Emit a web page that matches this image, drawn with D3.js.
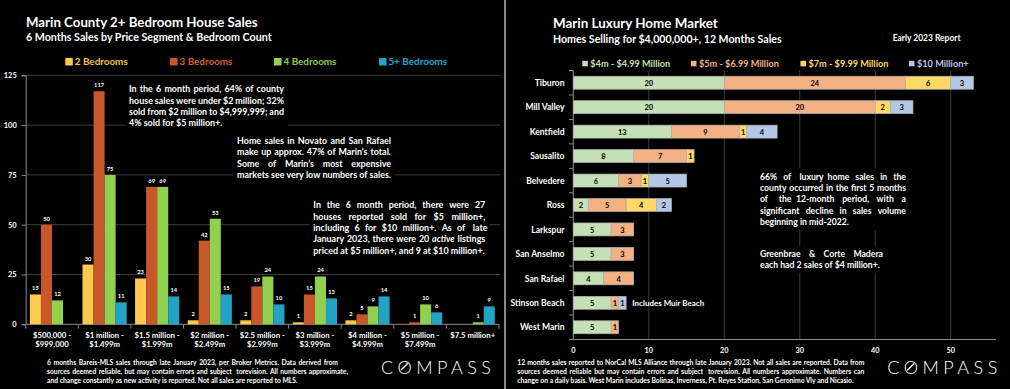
<!DOCTYPE html>
<html>
<head>
<meta charset="utf-8">
<script src="https://cdn.jsdelivr.net/npm/d3@7"></script>
<style>
  html, body { margin: 0; padding: 0; background: #000; }
  svg { display: block; font-family: Lato, "Open Sans", sans-serif; }
</style>
</head>
<body>
<svg id="chart" width="1010" height="389"></svg>
<script>
// ---- left chart: bedroom counts by price segment ----
const priceLine1 = ['$500,000 -', '$1 million -', '$1.5 million -', '$2 million -', '$2.5 million -',
                    '$3 million -', '$4 million -', '$5 million -', '$7.5 million+'];
const priceLine2 = ['$999,000', '$1.499m', '$1.999m', '$2.499m', '$2.999m', '$3.999m', '$4.999m', '$7.499m', ''];
const bedKeys = ['2 Bedrooms', '3 Bedrooms', '4 Bedrooms', '5+ Bedrooms'];
const beds2 = [15, 30, 23, 2, 2, 1, 2, null, null];
const beds3 = [50, 117, 69, 42, 19, 15, 5, 1, null];
const beds4 = [12, 75, 69, 53, 24, 24, 9, 10, 1];
const beds5 = [null, 11, 14, 15, 10, 13, 14, 6, 9];
const yTicksLeft = [0, 25, 50, 75, 100, 125];

// ---- right chart: luxury sales by town ----
const towns = ['Tiburon', 'Mill Valley', 'Kentfield', 'Sausalito', 'Belvedere', 'Ross', 'Larkspur',
               'San Anselmo', 'San Rafael', 'Stinson Beach', 'West Marin'];
const segKeys = ['$4m - $4.99 Million', '$5m - $6.99 Million', '$7m - $9.99 Million', '$10 Million+'];
const seg4m  = [20, 20, 13, 8, 6, 2, 5, 5, 4, 5, 5];
const seg5m  = [24, 20, 9, 7, 3, 5, 3, 3, 4, 1, 1];
const seg7m  = [6, 2, 1, 1, 1, 4, 0, 0, 0, 0, 0];
const seg10m = [3, 3, 4, 0, 5, 2, 0, 0, 0, 1, 0];
const xTicksRight = [0, 10, 20, 30, 40, 50];

const BED_COLORS = ['#FFC84F', '#C8582A', '#92D050', '#23A3C3'];
const BED_TEXT = ['#F7C244', '#D65F27', '#8CCB4E', '#1FA6D6'];
const SEG_COLORS = ['#C5E0B4', '#F4B183', '#FFD966', '#B4C7E7'];
const GRID = '#3c3c3c', AXIS = '#8c8c8c';

const svg = d3.select('#chart');
svg.append('rect').attr('width', 1010).attr('height', 389).attr('fill', '#000');

// helpers
const probe = svg.append('text').attr('x', -500).attr('y', -500);
function measure(str, size, weight) {
  probe.attr('font-size', size).attr('font-weight', weight || 'bold').text(str);
  return probe.node().getComputedTextLength();
}
function fitSize(str, w, weight) { return 10 * w / measure(str, 10, weight); }

function wordsLine(g, line, x, y, size, width, color) {
  const words = line.split(' ').filter(d => d);
  const t = g.append('text').attr('y', y).attr('font-size', size).attr('font-weight', 'bold').attr('fill', color || '#fff');
  const spans = words.map(wd => {
    const it = wd.startsWith('*');
    return t.append('tspan').attr('font-style', it ? 'italic' : null).text(it ? wd.replace(/\*/g, '') : wd);
  });
  const lens = spans.map(s => s.node().getComputedTextLength());
  const space = measure('a a', size) - measure('aa', size);
  const gap = width && words.length > 1 ? (width - d3.sum(lens)) / (words.length - 1) : space;
  let cx = x;
  spans.forEach((s, i) => { s.attr('x', cx); cx += lens[i] + gap; });
}

function note(g, lines, x, y, lh, size, w, justifyLast) {
  g.append('rect').attr('x', x - 4).attr('y', y - lh).attr('width', w + 8)
    .attr('height', lh * lines.length + 5).attr('fill', '#000');
  lines.forEach((ln, i) => {
    const last = i === lines.length - 1;
    wordsLine(g, ln, x, y + i * lh, size, (last && !justifyLast) ? null : w);
  });
}

function compass(g, x, y) {
  const t = g.append('text').attr('x', x).attr('y', y).attr('font-size', 18).attr('font-weight', 300)
    .attr('fill', '#fff').attr('textLength', 110).attr('lengthAdjust', 'spacing').text('COMPASS');
  const e = t.node().getExtentOfChar(1);
  const cx = e.x + e.width / 2 - 1, cy = y - 6.5;
  g.append('line').attr('x1', cx - 2.5).attr('y1', cy + 2.5).attr('x2', cx + 4.3).attr('y2', cy - 4.3)
    .attr('stroke', '#fff').attr('stroke-width', 1.4);
}

// ================= LEFT PANEL =================
const L = svg.append('g');
const xL = d3.scaleBand().domain(d3.range(priceLine1.length)).range([25.7, 499]).paddingInner(0.16).paddingOuter(0.08);
const xL1 = d3.scaleBand().domain(bedKeys).range([0, xL.bandwidth()]);
const yL = d3.scaleLinear().domain([0, 125]).range([324.3, 75.3]);
const bedSeries = [beds2, beds3, beds4, beds5];

L.append('text').attr('x', 26).attr('y', 27).attr('fill', '#fff').attr('font-weight', 'bold')
  .attr('font-size', fitSize('Marin County 2+ Bedroom House Sales', 232)).text('Marin County 2+ Bedroom House Sales');
L.append('text').attr('x', 26).attr('y', 41).attr('fill', '#fff').attr('font-weight', 'bold')
  .attr('font-size', fitSize('6 Months Sales by Price Segment & Bedroom Count', 246))
  .text('6 Months Sales by Price Segment & Bedroom Count');

// legend
const legFs = fitSize('2 Bedrooms', 53);
[65.3, 170, 274, 379].forEach((lx, i) => {
  L.append('rect').attr('x', lx).attr('y', 58).attr('width', 7.5).attr('height', 7.5).attr('fill', BED_COLORS[i]);
  L.append('text').attr('x', lx + 9.5).attr('y', 65.3).attr('font-size', legFs).attr('font-weight', 'bold')
    .attr('fill', BED_TEXT[i]).text(bedKeys[i]);
});

// grid
L.selectAll('line.grid').data(yTicksLeft.filter(v => v > 0)).join('line').attr('class', 'grid')
  .attr('x1', 25.7).attr('x2', 500).attr('y1', d => yL(d)).attr('y2', d => yL(d))
  .attr('stroke', GRID).attr('stroke-width', 1);

// y axis
const yAx = L.append('g').attr('transform', 'translate(25.7,0)')
  .call(d3.axisLeft(yL).tickValues(yTicksLeft).tickSize(4).tickPadding(5));
yAx.select('.domain').attr('stroke', AXIS);
yAx.selectAll('.tick line').attr('stroke', AXIS);
yAx.selectAll('.tick text').attr('fill', '#fff').attr('font-weight', 'bold')
  .attr('font-size', fitSize('125', 13)).attr('font-family', 'Lato, sans-serif');

// x axis
L.append('line').attr('x1', 25.7).attr('x2', 499).attr('y1', 324.3).attr('y2', 324.3).attr('stroke', AXIS);
const stepL = xL.step();
L.selectAll('line.xt').data(d3.range(priceLine1.length + 1)).join('line').attr('class', 'xt')
  .attr('x1', d => 25.7 + d * stepL).attr('x2', d => 25.7 + d * stepL)
  .attr('y1', 324.3).attr('y2', 328.5).attr('stroke', AXIS);
const catFs = fitSize('$7.5 million+', 45);
priceLine1.forEach((p, i) => {
  const cx = xL(i) + xL.bandwidth() / 2;
  const t = L.append('text').attr('text-anchor', 'middle').attr('fill', '#fff').attr('font-weight', 'bold')
    .attr('font-size', catFs);
  t.append('tspan').attr('x', cx).attr('y', 337.8).text(p);
  t.append('tspan').attr('x', cx).attr('y', 347.3).text(priceLine2[i]);
});

// annotations (boxes hide the gridlines behind them)
const annFs = fitSize('markets see very low numbers of sales.', 154);
note(L, ['In the 6 month period, 64% of county', 'house sales were under $2 million; 32%',
         'sold from $2 million to $4,999,999; and', '4% sold for $5 million+.'], 129, 92.3, 11.3, annFs, 155);
note(L, ['Home sales in Novato and San Rafael', 'make up approx. 47% of Marin\u2019s total.',
         'Some of Marin\u2019s most expensive', 'markets see very low numbers of sales.'], 237, 143.8, 11.4, annFs, 154, true);
note(L, ['In the 6 month period, there were 27', 'houses reported sold for $5 million+,',
         'including 6 for $10 million+. As of late', 'January 2023, there were 20 *active* listings',
         'priced at $5 million+, and 9 at $10 million+.'], 313.3, 208.3, 11.3, annFs, 172);

// bars
const valFs = fitSize('117', 10);
bedSeries.forEach((vals, k) => {
  vals.forEach((v, i) => {
    if (v == null || v <= 0) return;
    const bx = xL(i) + xL1(bedKeys[k]);
    L.append('rect').attr('x', bx).attr('y', yL(v)).attr('width', xL1.bandwidth()).attr('height', yL(0) - yL(v))
      .attr('fill', BED_COLORS[k]);
    L.append('text').attr('x', bx + xL1.bandwidth() / 2).attr('y', yL(v) - 4).attr('text-anchor', 'middle')
      .attr('fill', '#fff').attr('font-weight', 'bold').attr('font-size', valFs).text(v);
  });
});

// footnote
const footFs = fitSize('and change constantly as new activity is reported. Not all sales are reported to MLS.', 251);
wordsLine(L, '6  months Bareis-MLS sales through late January 2023, per Broker Metrics. Data derived from', 47, 364.8, footFs, 291);
wordsLine(L, 'sources deemed reliable, but may contain errors and subject to revision. All numbers approximate,', 47, 374, footFs, 301);
wordsLine(L, 'and change constantly as new activity is reported. Not all sales are reported to MLS.', 47, 383.2, footFs, null);
compass(L, 381, 374);

// separator
svg.append('line').attr('x1', 505).attr('x2', 505).attr('y1', 0).attr('y2', 389)
  .attr('stroke', '#8a8a8a').attr('stroke-width', 2);

// ================= RIGHT PANEL =================
const R = svg.append('g');
const xR = d3.scaleLinear().domain([0, 56]).range([573.3, 996]);
const yR = d3.scaleBand().domain(towns).range([70.5, 339.5]).paddingInner(0.47).paddingOuter(0.235);

R.append('text').attr('x', 553).attr('y', 28).attr('fill', '#fff').attr('font-weight', 'bold')
  .attr('font-size', fitSize('Marin Luxury Home Market', 165)).text('Marin Luxury Home Market');
R.append('text').attr('x', 553).attr('y', 43).attr('fill', '#fff').attr('font-weight', 'bold')
  .attr('font-size', fitSize('Homes Selling for $4,000,000+, 12 Months Sales', 229))
  .text('Homes Selling for $4,000,000+, 12 Months Sales');
R.append('text').attr('x', 892.7).attr('y', 40.5).attr('fill', '#fff').attr('font-weight', 'bold')
  .attr('font-size', fitSize('Early 2023 Report', 68)).text('Early 2023 Report');

const legFsR = fitSize('$4m - $4.99 Million', 80);
[582.3, 691, 800.5, 909].forEach((lx, i) => {
  R.append('rect').attr('x', lx).attr('y', 60.8).attr('width', 5.5).attr('height', 5.5).attr('fill', SEG_COLORS[i]);
  R.append('text').attr('x', lx + 8).attr('y', 66.5).attr('font-size', legFsR).attr('font-weight', 'bold')
    .attr('fill', SEG_COLORS[i]).text(segKeys[i]);
});

// grid
R.selectAll('line.grid').data(xTicksRight.filter(v => v > 0)).join('line').attr('class', 'grid')
  .attr('x1', d => xR(d)).attr('x2', d => xR(d)).attr('y1', 70.5).attr('y2', 339.5)
  .attr('stroke', GRID);

// axes
R.append('line').attr('x1', 573.3).attr('x2', 573.3).attr('y1', 70.5).attr('y2', 339.5).attr('stroke', AXIS);
R.append('line').attr('x1', 573.3).attr('x2', 996).attr('y1', 339.5).attr('y2', 339.5).attr('stroke', AXIS);
const stepR = yR.step();
R.selectAll('line.yt').data(d3.range(towns.length + 1)).join('line').attr('class', 'yt')
  .attr('x1', 569).attr('x2', 573.3).attr('y1', d => 70.5 + d * stepR).attr('y2', d => 70.5 + d * stepR)
  .attr('stroke', AXIS);
const tickFsR = fitSize('50', 8.5);
R.selectAll('text.xl').data(xTicksRight).join('text').attr('class', 'xl')
  .attr('x', d => xR(d)).attr('y', 353).attr('text-anchor', 'middle').attr('fill', '#fff')
  .attr('font-weight', 'bold').attr('font-size', tickFsR).text(d => d);
const townFs = fitSize('Stinson Beach', 54);
R.selectAll('text.town').data(towns).join('text').attr('class', 'town')
  .attr('x', 564.5).attr('y', d => yR(d) + yR.bandwidth() / 2 + 3.2).attr('text-anchor', 'end')
  .attr('fill', '#fff').attr('font-weight', 'bold').attr('font-size', townFs).text(d => d);

// annotations
const annFsR = fitSize('beginning in mid-2022.', 89);
note(R, ['66% of luxury home sales in the', 'county occurred in the first 5 months',
         'of the 12-month period, with a', 'significant decline in sales volume', 'beginning in mid-2022.'],
     760, 179.8, 11.3, annFsR, 146);
note(R, ['Greenbrae & Corte Madera', 'each had 2 sales of $4 million+.'], 760, 257, 10.7, annFsR, 123);

// stacked bars
const rows = towns.map((t, i) => ({ town: t, a: seg4m[i], b: seg5m[i], c: seg7m[i], d: seg10m[i] }));
const stacked = d3.stack().keys(['a', 'b', 'c', 'd'])(rows);
const barFs = fitSize('20', 8.7);
stacked.forEach((layer, k) => {
  layer.forEach(seg => {
    const v = seg[1] - seg[0];
    if (v <= 0) return;
    const y = yR(seg.data.town);
    R.append('rect').attr('x', xR(seg[0])).attr('y', y).attr('width', xR(seg[1]) - xR(seg[0]))
      .attr('height', yR.bandwidth()).attr('fill', SEG_COLORS[k]).attr('stroke', '#b0b0b0').attr('stroke-width', 0.7);
    R.append('text').attr('x', (xR(seg[0]) + xR(seg[1])) / 2).attr('y', y + yR.bandwidth() / 2 + 3.2)
      .attr('text-anchor', 'middle').attr('fill', '#000').attr('font-weight', 'bold').attr('font-size', barFs).text(v);
  });
});
R.append('text').attr('x', 632.3).attr('y', 306.3).attr('fill', '#fff').attr('font-weight', 'bold')
  .attr('font-size', fitSize('Includes Muir Beach', 72)).text('Includes Muir Beach');

// footnote
wordsLine(R, '12 months sales reported to NorCal MLS Alliance through late January 2023. Not all sales are reported. Data from', 517.3, 364.8, footFs, 347);
wordsLine(R, 'sources deemed reliable but may contain errors and subject to revision. All numbers approximate. Numbers can', 517.3, 373.8, footFs, 347);
wordsLine(R, 'change on a daily basis. West Marin includes Bolinas, Inverness, Pt. Reyes Station, San Geronimo Vly and Nicasio.', 517.3, 382.8, footFs, null);
compass(R, 887.3, 374.3);

probe.remove();
</script>
</body>
</html>
